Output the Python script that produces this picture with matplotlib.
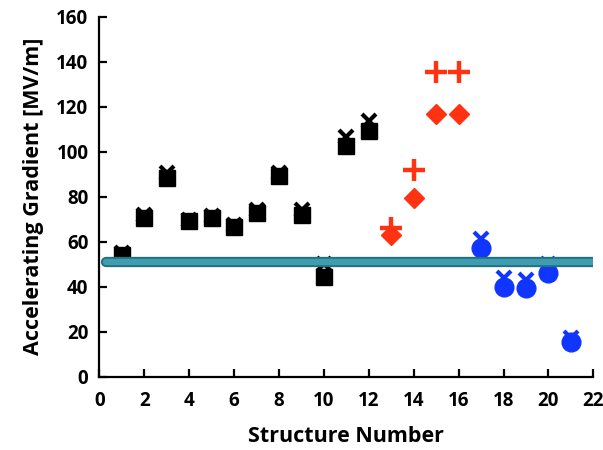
import numpy as np
import matplotlib.pyplot as plt

plt.rcParams['font.family'] = ['Open Sans', 'DejaVu Sans']
plt.rcParams['font.weight'] = 'bold'
plt.rcParams['axes.labelweight'] = 'bold'

# black group: structures 1-12
black_x = [1, 2, 3, 4, 5, 6, 7, 8, 9, 10, 11, 12]
black_sq = [54, 70.5, 88.5, 69, 70.5, 66.7, 72.6, 89, 72, 44.5, 102.5, 109]
black_cross = [55, 72, 90.5, 69.5, 71.5, 67.5, 74, 90.5, 74, 50, 106.5, 113.6]

# red group: structures 13-16
red_x = [13, 14, 15, 16]
red_diamond = [63, 79.3, 116.8, 116.8]
red_plus = [66, 92, 135.5, 135.3]

# blue group: structures 17-21
blue_x = [17, 18, 19, 20, 21]
blue_circle = [57, 40, 39.3, 46, 15.6]
blue_cross = [61, 44, 43, 50, 17]

target = 51.1
target_span = [0.3, 22.0]

fig = plt.figure(figsize=(6.03, 4.5), dpi=100)
ax = fig.add_axes([0.165, 0.163, 0.819, 0.8])

ax.plot(black_x, black_cross, 'x', color='black', ms=10, mew=3, ls='none')
ax.plot(black_x, black_sq, 's', color='black', ms=11.5, ls='none')

ax.plot(red_x, red_plus, '+', color='#FF3311', ms=16, mew=3.2, ls='none')
ax.plot(red_x, red_diamond, 'D', color='#FF3311', ms=10, ls='none')

ax.plot(blue_x, blue_cross, 'x', color='#1035FF', ms=10, mew=3, ls='none')
ax.plot(blue_x, blue_circle, 'o', color='#1035FF', ms=13.5, ls='none')

ax.plot(target_span, [target, target], color='#23707F', lw=7.4,
        solid_capstyle='round', zorder=5)
ax.plot(target_span, [target, target], color='#3E9DB1', lw=4.6,
        solid_capstyle='round', zorder=6)

ax.set_xlim(0, 22)
ax.set_ylim(0, 160)
ax.set_xticks(np.arange(0, 23, 2))
ax.set_yticks(np.arange(0, 161, 20))
ax.spines['top'].set_visible(False)
ax.spines['right'].set_visible(False)
for s in ['left', 'bottom']:
    ax.spines[s].set_linewidth(1.6)
ax.tick_params(direction='in', length=6, width=1.6, labelsize=13.5)
ax.tick_params(axis='x', pad=10)
ax.tick_params(axis='y', pad=8)
ax.set_xlabel('Structure Number', fontsize=15.5, labelpad=11)
ax.set_ylabel('Accelerating Gradient [MV/m]', fontsize=15.5, labelpad=9)

fig.savefig('out.png', dpi=100)
